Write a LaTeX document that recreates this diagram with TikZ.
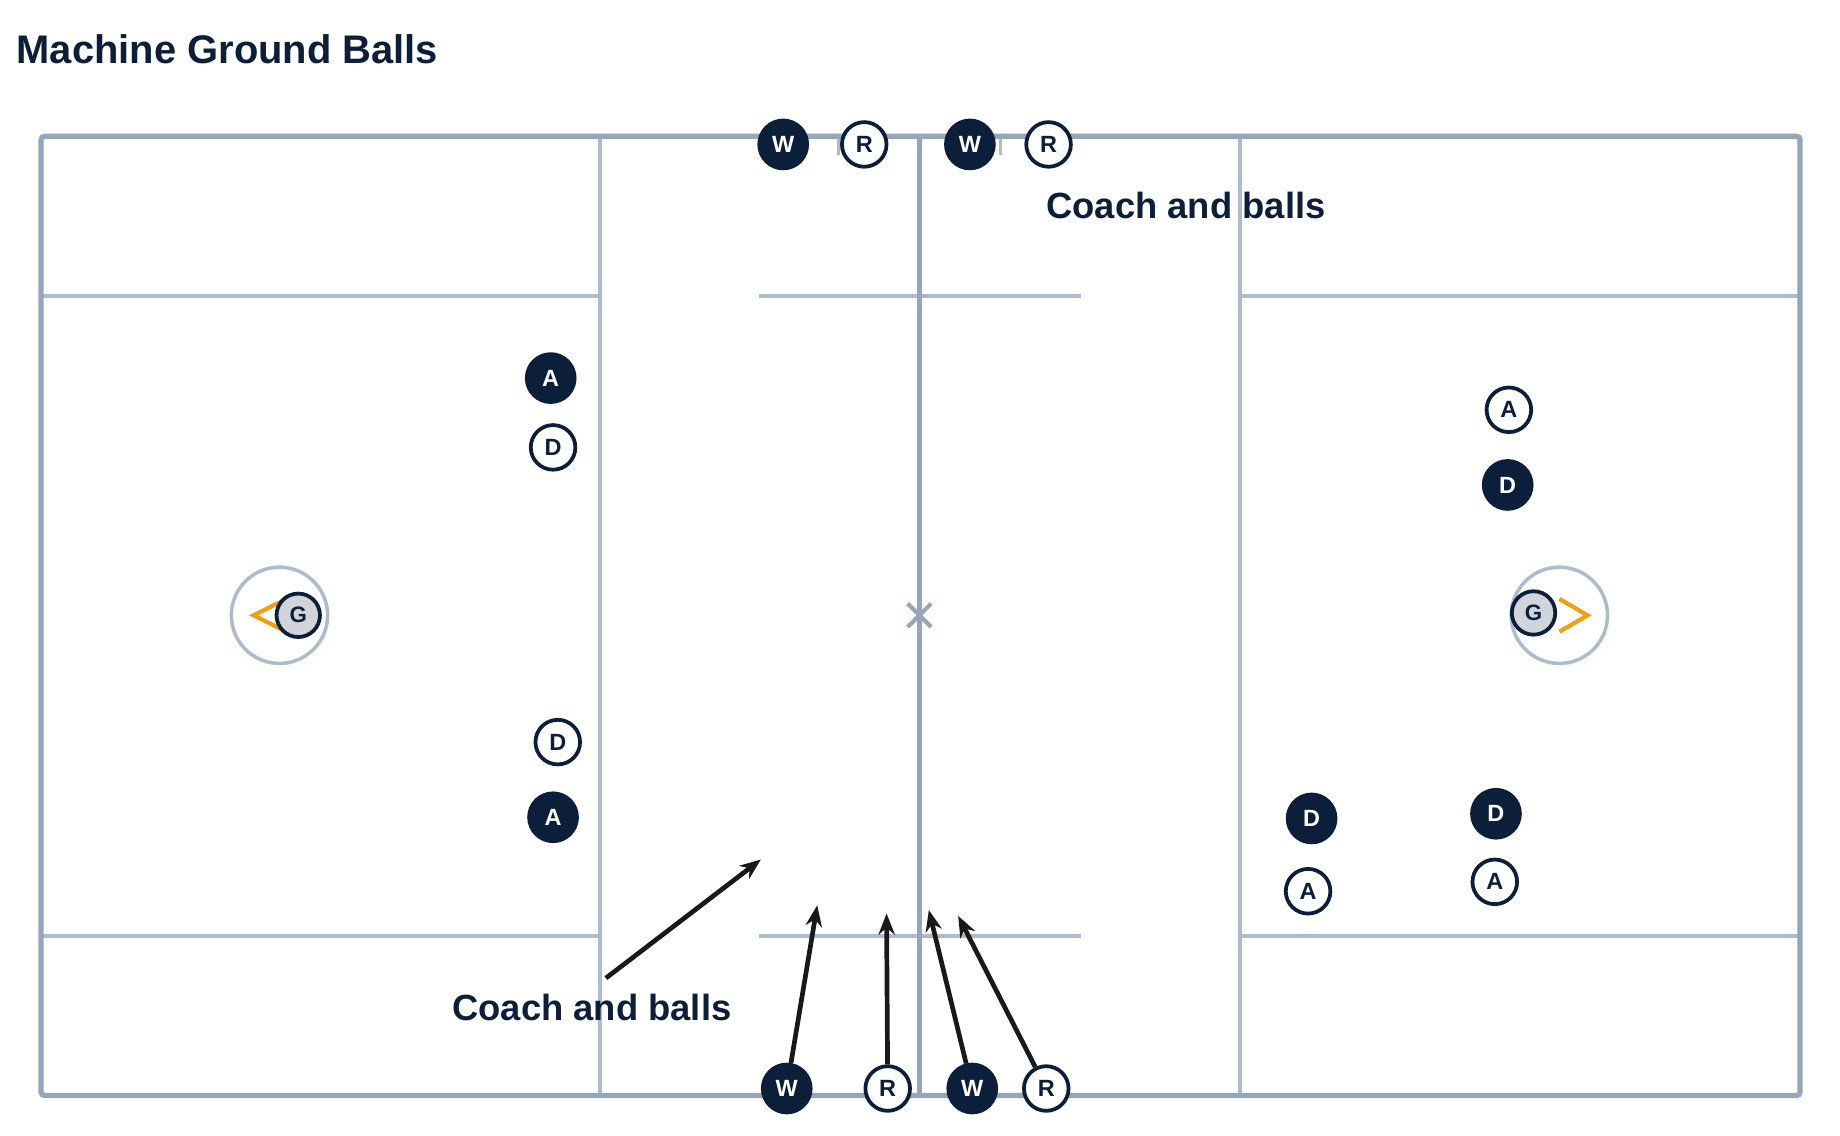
\documentclass[tikz,border=0pt]{standalone}
\usepackage{fontspec}
\setmainfont{Liberation Sans}
\usetikzlibrary{arrows.meta}
\definecolor{navy}{HTML}{0C1F3A}
\definecolor{fld}{HTML}{94A5BC}
\definecolor{fldl}{HTML}{AEBBCD}
\definecolor{gk}{HTML}{D1D5DB}
\definecolor{org}{HTML}{F59E0B}
\begin{document}
\begin{tikzpicture}[x=1pt,y=-1pt,
  dk/.style={circle,fill=navy,draw=navy,line width=3pt,minimum size=41pt,inner sep=0pt,text=white,font=\bfseries\fontsize{20}{20}\selectfont},
  wt/.style={circle,fill=white,draw=navy,line width=3.2pt,minimum size=38pt,inner sep=0pt,text=navy,font=\bfseries\fontsize{20}{20}\selectfont},
  gl/.style={circle,fill=gk,draw=navy,line width=3.2pt,minimum size=37pt,inner sep=0pt,text=navy,font=\bfseries\fontsize{19}{19}\selectfont},
  ln/.style={draw=fldl,line width=3pt},
  ar/.style={draw=black!90,line width=4pt,-{Stealth[length=18pt,width=14pt]}},
  lab/.style={text=navy,font=\bfseries\fontsize{31}{31}\selectfont}]
\useasboundingbox (0,0) rectangle (1567,967);
\node[anchor=west,inner sep=0pt,text=navy,font=\bfseries\fontsize{34}{34}\selectfont] (title) at (14,42) {Machine Ground Balls};
% field
\draw[ln] (511,116) -- (511,933);
\draw[ln] (1056,116) -- (1056,933);
\foreach \y in {252,797}{
  \draw[ln] (35,\y) -- (511,\y);
  \draw[ln] (646,\y) -- (921,\y);
  \draw[ln] (1056,\y) -- (1533,\y);}
\draw[ln] (714,116) -- (714,132);
\draw[ln] (852,116) -- (852,132);
\draw[draw=fld,line width=4pt] (783,116) -- (783,933);
\draw[draw=fld,line width=4.5pt,rounded corners=3pt] (35,116) rectangle (1533,933);
\draw[draw=fld,line width=3.5pt] (773,514) -- (793,534) (773,534) -- (793,514);
\draw[draw=fldl,line width=3pt] (238,524) circle (41);
\draw[draw=fldl,line width=3pt] (1328,524) circle (41);
\draw[draw=org,line width=3.5pt,line join=miter] (240,512) -- (216,524) -- (240,536);
\draw[draw=org,line width=3.5pt,line join=miter] (1328,510) -- (1352,524) -- (1328,538);
\node[gl] (g1) at (254,524) {G};
\node[gl] (g2) at (1306,522) {G};
% players
\node[dk] (tw1) at (667,123) {W};
\node[wt] (tr1) at (736,123) {R};
\node[dk] (tw2) at (826,123) {W};
\node[wt] (tr2) at (893,123) {R};
\node[dk] (la1) at (469,322) {A};
\node[wt] (ld1) at (471,381) {D};
\node[wt] (ld2) at (475,632) {D};
\node[dk] (la2) at (471,696) {A};
\node[wt] (ra1) at (1285,349) {A};
\node[dk] (rd1) at (1284,413) {D};
\node[dk] (rd2) at (1117,697) {D};
\node[wt] (ra2) at (1114,759) {A};
\node[dk] (rd3) at (1274,693) {D};
\node[wt] (ra3) at (1273,751) {A};
\node[dk] (bw1) at (670,927) {W};
\node[wt] (br1) at (756,927) {R};
\node[dk] (bw2) at (828,927) {W};
\node[wt] (br2) at (891,927) {R};
\node[lab] (c1) at (1010,175) {Coach and balls};
\node[lab] (c2) at (504,858) {Coach and balls};
% arrows
\coordinate (s0) at (516,833);
\coordinate (e0) at (648,732);
\coordinate (e1) at (696,771);
\coordinate (e2) at (755,778);
\coordinate (e3) at (791,775);
\coordinate (e4) at (816,780);
\draw[ar] (s0) -- (e0);
\draw[ar] (bw1) -- (e1);
\draw[ar] (br1) -- (e2);
\draw[ar] (bw2) -- (e3);
\draw[ar] (br2) -- (e4);
\end{tikzpicture}
\end{document}
